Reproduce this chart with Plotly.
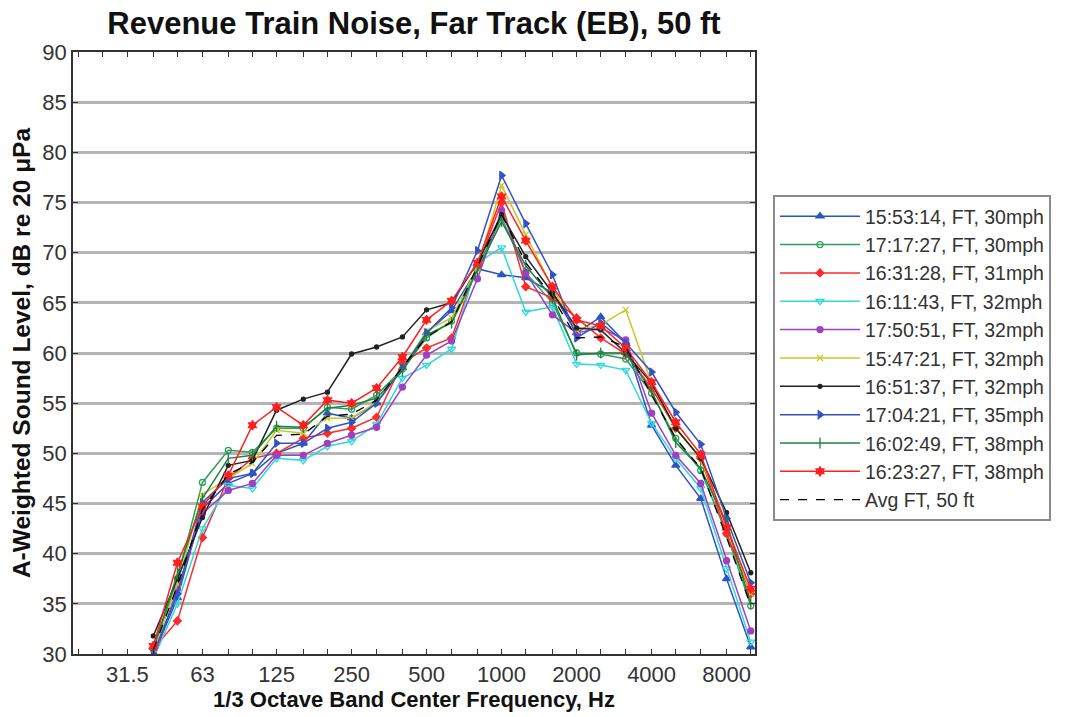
import math
import plotly.graph_objects as go

bands = [40, 50, 63, 80, 100, 125, 160, 200, 250, 315, 400, 500, 630, 800,
         1000, 1250, 1600, 2000, 2500, 3150, 4000, 5000, 6300, 8000, 10000]

s_155314 = [29.8, 35.6, 44.5, 47.0, 48.0, 50.0, 51.0, 54.0, 53.5, 55.0, 58.5, 62.0, 64.2, 68.4,
            67.8, 67.5, 66.0, 62.0, 63.6, 61.0, 52.8, 48.8, 45.5, 37.5, 30.7]
s_171727 = [30.5, 37.5, 47.1, 50.3, 50.1, 52.5, 52.5, 54.6, 54.4, 55.8, 58.4, 61.5, 63.2, 68.5,
            73.5, 68.0, 65.0, 60.0, 59.9, 59.4, 56.0, 51.5, 48.3, 42.0, 34.8]
s_163128 = [30.5, 33.3, 41.6, 47.5, 49.5, 50.0, 51.5, 52.0, 52.5, 53.6, 59.0, 60.5, 61.5, 68.7,
            75.0, 66.6, 65.5, 63.5, 61.5, 59.9, 56.5, 52.5, 49.5, 42.0, 36.0]
s_161143 = [29.5, 35.0, 42.5, 46.8, 46.5, 49.5, 49.3, 50.7, 51.2, 52.9, 57.5, 58.8, 60.4, 69.0,
            70.5, 64.1, 64.6, 58.9, 58.8, 58.3, 53.0, 49.5, 46.5, 38.5, 31.2]
s_175051 = [29.5, 36.5, 44.0, 46.3, 47.0, 49.8, 49.8, 51.0, 51.8, 52.6, 56.6, 59.8, 61.2, 67.4,
            74.2, 68.0, 63.8, 62.0, 62.5, 61.3, 54.0, 49.8, 47.0, 39.3, 32.3]
s_154721 = [30.0, 37.0, 45.9, 47.5, 49.0, 52.3, 52.0, 53.5, 53.5, 55.1, 58.5, 62.2, 63.5, 68.5,
            76.7, 71.8, 66.5, 62.3, 62.8, 64.3, 57.0, 52.5, 49.5, 43.0, 36.0]
s_165137 = [31.8, 37.5, 43.6, 48.8, 49.3, 54.3, 55.4, 56.1, 59.9, 60.6, 61.6, 64.3, 65.0, 69.0,
            73.8, 69.6, 66.0, 62.5, 62.3, 60.0, 57.0, 52.5, 49.5, 44.1, 38.1]
s_170421 = [30.0, 36.0, 45.1, 47.5, 48.0, 51.0, 51.0, 52.5, 53.1, 55.0, 58.5, 62.0, 64.5, 70.2,
            77.7, 72.9, 67.8, 61.5, 63.0, 61.0, 58.1, 54.1, 50.9, 43.5, 37.1]
s_160249 = [30.5, 38.0, 45.5, 49.5, 49.8, 52.7, 52.6, 54.5, 54.8, 55.5, 58.2, 61.8, 63.0, 68.3,
            73.1, 68.7, 65.5, 59.8, 60.0, 60.0, 56.2, 51.1, 48.5, 43.0, 35.0]
s_162327 = [30.8, 39.1, 44.7, 47.8, 52.8, 54.6, 52.8, 55.3, 55.0, 56.5, 59.6, 63.3, 65.2, 69.0,
            75.6, 71.2, 66.6, 63.3, 62.7, 60.5, 57.1, 53.1, 49.9, 42.6, 36.5]
s_avg = [30.4, 36.8, 44.4, 47.9, 49.1, 51.8, 51.9, 53.7, 53.9, 55.3, 58.6, 61.6, 63.1, 68.6,
         73.8, 69.0, 65.6, 61.5, 61.6, 60.6, 55.8, 51.5, 48.5, 41.6, 34.8]

series_names = ["15:53:14, FT, 30mph", "17:17:27, FT, 30mph", "16:31:28, FT, 31mph",
                "16:11:43, FT, 32mph", "17:50:51, FT, 32mph", "15:47:21, FT, 32mph",
                "16:51:37, FT, 32mph", "17:04:21, FT, 35mph", "16:02:49, FT, 38mph",
                "16:23:27, FT, 38mph"]
series_vals = [s_155314, s_171727, s_163128, s_161143, s_175051, s_154721,
               s_165137, s_170421, s_160249, s_162327]

styles = [
    ("#2a55c8", "triangle-up", 7),
    ("#2ca05a", "circle-open", 6),
    ("#ff2a2a", "diamond", 6),
    ("#30d8dc", "triangle-down-open", 7),
    ("#a040c0", "circle", 6),
    ("#c8c828", "x-thin-open", 6),
    ("#222222", "circle", 4),
    ("#3452c4", "triangle-right", 7),
    ("#1f8040", "line-ns-open", 8),
    ("#ff2020", "hexagram", 7),
]

tick_bands = [20, 25, 31.5, 40, 50, 63, 80, 100, 125, 160, 200, 250, 315, 400, 500, 630,
              800, 1000, 1250, 1600, 2000, 2500, 3150, 4000, 5000, 6300, 8000, 10000]
tick_labels = ["31.5", "63", "125", "250", "500", "1000", "2000", "4000", "8000"]

fig = go.Figure()
for name, vals, (col, sym, sz) in zip(series_names, series_vals, styles):
    fig.add_trace(go.Scatter(
        x=bands, y=vals, name=name, mode="lines+markers",
        line=dict(color=col, width=1.5),
        marker=dict(symbol=sym, size=sz, color=col, line=dict(color=col, width=1.3)),
    ))
fig.add_trace(go.Scatter(
    x=bands, y=s_avg, name="Avg FT, 50 ft", mode="lines",
    line=dict(color="#000000", width=1.3, dash="dash"),
))

ticktext = [str(t) if str(t) in tick_labels else "" for t in tick_bands]

font_main = "Liberation Sans, Arial, sans-serif"
fig.update_layout(
    width=1066, height=717,
    margin=dict(l=73, r=311, t=52, b=63, autoexpand=False),
    paper_bgcolor="white", plot_bgcolor="white",
    font=dict(family=font_main, size=20, color="#333333"),
    title=dict(text="<b>Revenue Train Noise, Far Track (EB), 50 ft</b>",
               x=(73 + 755) / 2 / 1066, xanchor="center", y=0.968, yanchor="middle",
               font=dict(size=31, color="#111111", family=font_main)),
    showlegend=True,
    legend=dict(xref="container", yref="container",
                x=773 / 1066, y=1 - 195 / 717, xanchor="left", yanchor="top",
                bordercolor="#8a8a8a", borderwidth=2, bgcolor="white",
                font=dict(size=19.5, color="#333333", family=font_main),
                tracegroupgap=0, itemwidth=80),
)
fig.update_xaxes(
    type="log", range=[math.log10(19.05), math.log10(10400)],
    tickmode="array", tickvals=tick_bands, ticktext=ticktext,
    ticks="inside", ticklen=5, tickcolor="#333333", tickwidth=1,
    showline=True, linecolor="#333333", linewidth=1.6, mirror="allticks",
    showgrid=False, zeroline=False,
    title=dict(text="<b>1/3 Octave Band Center Frequency, Hz</b>",
               font=dict(size=22, color="#111111"), standoff=2),
    tickfont=dict(size=22, color="#333333"),
)
fig.update_yaxes(
    range=[30, 90], dtick=5, tick0=30,
    ticks="inside", ticklen=5, tickcolor="#333333", tickwidth=1,
    showline=True, linecolor="#333333", linewidth=1.6, mirror="allticks",
    showgrid=True, gridcolor="#b4b4b4", gridwidth=2.5, zeroline=False,
    title=dict(text="<b>A-Weighted Sound Level, dB re 20 μPa</b>",
               font=dict(size=24.5, color="#111111"), standoff=5),
    tickfont=dict(size=22, color="#333333"),
)

fig.write_html("out.html")
